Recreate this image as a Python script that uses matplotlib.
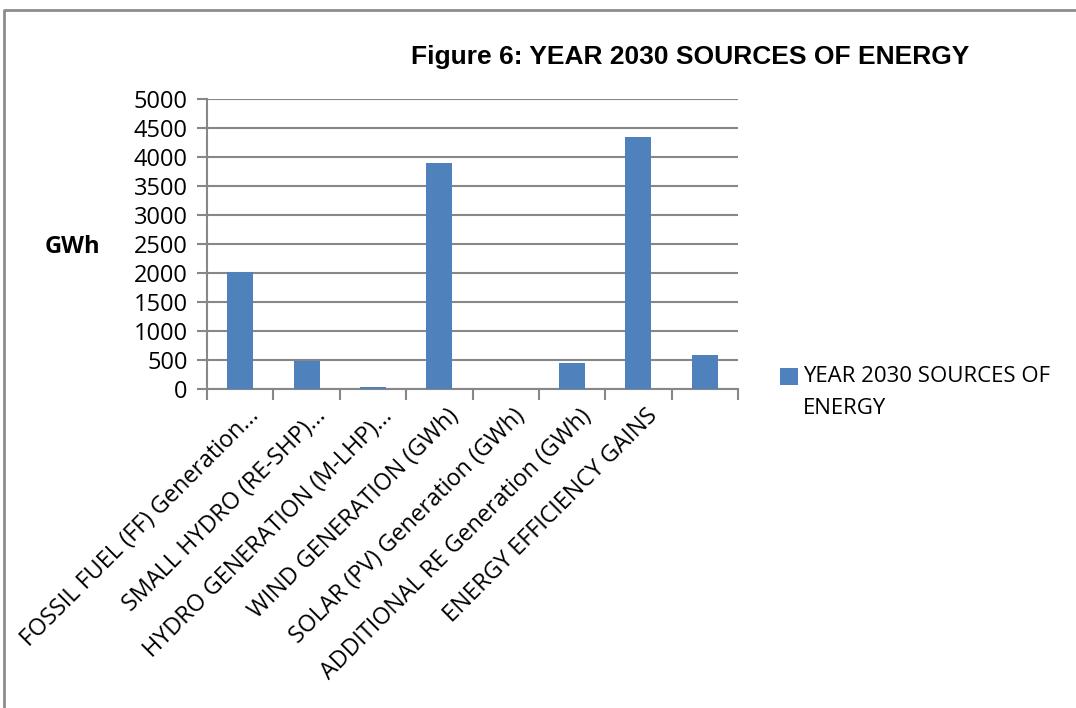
import matplotlib.pyplot as plt
import matplotlib.transforms as mtransforms
from matplotlib.lines import Line2D
import numpy as np

categories = ['FOSSIL FUEL (FF) Generation...', 'SMALL HYDRO (RE-SHP)...',
              'HYDRO GENERATION (M-LHP)...', 'WIND GENERATION (GWh)',
              'SOLAR (PV) Generation (GWh)', 'ADDITIONAL RE Generation (GWh)',
              'ENERGY EFFICIENCY GAINS', '']
values = [2020, 490, 35, 3890, 0, 440, 4345, 585]
yticks = [0, 500, 1000, 1500, 2000, 2500, 3000, 3500, 4000, 4500, 5000]
series_name = 'YEAR 2030 SOURCES OF\nENERGY'

fig = plt.figure(figsize=(10.76, 7.08), dpi=100)
ax = fig.add_axes([207/1076, 1-389/708, (738-207)/1076, (389-99)/708])

x = np.arange(len(categories))
ax.bar(x, values, width=0.39, color='#4F81BD', zorder=3, label=series_name)

ax.set_xlim(-0.5, len(categories)-0.5)
ax.set_ylim(0, 5000)
ax.set_yticks(yticks)
ax.set_yticklabels([str(v) for v in yticks], fontfamily='Open Sans', fontsize=17)
ax.yaxis.grid(True, color='#878787', linewidth=1.5, zorder=0)
ax.tick_params(axis='y', length=7, width=1.5, color='#878787', pad=7)

for s in ['top', 'right']:
    ax.spines[s].set_visible(False)
for s in ['left', 'bottom']:
    ax.spines[s].set_color('#878787')
    ax.spines[s].set_linewidth(1.5)

# ticks at category boundaries, labels at centres
ax.set_xticks(np.arange(len(categories)+1)-0.5, minor=True)
ax.tick_params(axis='x', which='minor', length=8, width=1.5, color='#878787')
ax.set_xticks(x)
ax.set_xticklabels(categories, rotation=45, ha='right', va='baseline',
                   rotation_mode='anchor', fontfamily='Open Sans', fontsize=16.8)
ax.tick_params(axis='x', which='major', length=0, pad=0)
offset = mtransforms.ScaledTranslation(0.2, -0.28, fig.dpi_scale_trans)
for lbl in ax.get_xticklabels():
    lbl.set_transform(lbl.get_transform() + offset)

fig.text(690/1076, 1-57/708, 'Figure 6: YEAR 2030 SOURCES OF ENERGY',
         fontfamily='Liberation Sans', fontweight='bold', fontsize=19,
         ha='center', va='center')
fig.text(72/1076, 1-247/708, 'GWh', fontfamily='Open Sans', fontweight='bold',
         fontsize=17, ha='center', va='center')

leg = fig.legend(loc='upper left', bbox_to_anchor=(771/1076, 1-357/708),
                 frameon=False, prop={'family': 'Open Sans', 'size': 16},
                 handlelength=0.8, handleheight=0.8, handletextpad=0.25,
                 borderaxespad=0)
for t in leg.get_texts():
    t.set_linespacing(1.7)
# square sits next to the first line of the label
h = leg.legend_handles[0]
h.set_y(h.get_y() + 12)

# outer chart border
fig.add_artist(Line2D([4/1076, 4/1076, 1], [0, 1-10/708, 1-10/708],
                      transform=fig.transFigure, color='#8c8c8c', linewidth=2))

fig.savefig('out.png', dpi=100)
